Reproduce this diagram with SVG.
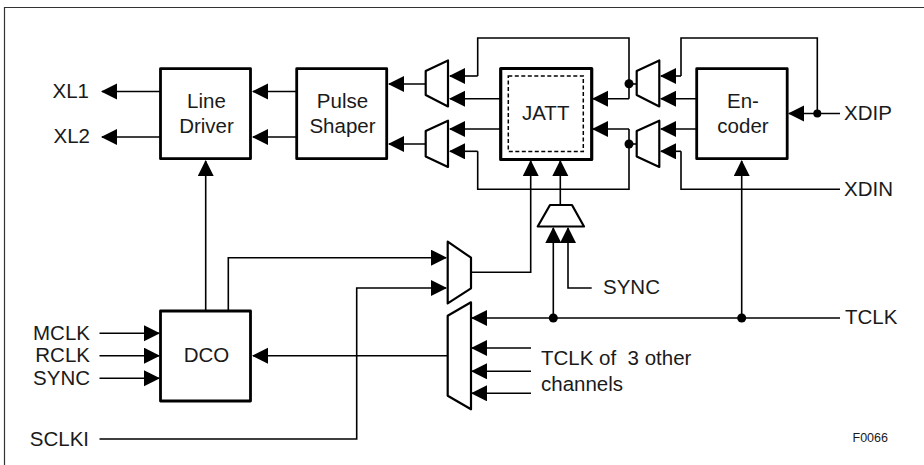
<svg xmlns="http://www.w3.org/2000/svg" width="924" height="465" viewBox="0 0 924 465">
<defs>
<marker id="a" markerUnits="userSpaceOnUse" markerWidth="17" markerHeight="17" refX="15" refY="8" orient="auto"><path d="M0,0L16,8L0,16Z" fill="#000"/></marker>
</defs>
<style>
text{font-family:"Liberation Sans",Arial,sans-serif;font-size:20.500px;fill:#1a1a1a}
.b{fill:#fff;stroke:#000;stroke-width:2.800;stroke-linejoin:round}
.t{fill:#fff;stroke:#000;stroke-width:2.200;stroke-linejoin:round}
.c path{fill:none;stroke:#000;stroke-width:1.600}
.c path.m{marker-end:url(#a)}
.c circle{fill:#000}
.m0{text-anchor:middle}
.e{text-anchor:end}
</style>
<rect width="924" height="465" fill="#fff"/>
<path d="M4.500,465V7.500H924" fill="none" stroke="#333" stroke-width="1.200"/>
<g class="c" id="connectors">
<path class="m" d="M160,91.500H102"/>
<path class="m" d="M160,137H102"/>
<path class="m" d="M296,91.500H253"/>
<path class="m" d="M296,137H253"/>
<path class="m" d="M426,84H389"/>
<path class="m" d="M426,144H389"/>
<path class="m" d="M477.700,76H450"/>
<path class="m" d="M500,98.700H450"/>
<path class="m" d="M500,129H450"/>
<path class="m" d="M477.700,151.300H450"/>
<path d="M477.700,76V38H629V98.700"/>
<path class="m" d="M629,98.700H593"/>
<path class="m" d="M629,129H593"/>
<path d="M629,129V189.300H477.700V151.300"/>
<path d="M629,84H636"/>
<path d="M629,144H636"/>
<path class="m" d="M681,76H661"/>
<path d="M681,76V38H817.300V113.500"/>
<path class="m" d="M696,98.700H661"/>
<path class="m" d="M696,129H661"/>
<path class="m" d="M681,151.300H661"/>
<path d="M681,151.300V189.300H840"/>
<path class="m" d="M840,113.500H789"/>
<path class="m" d="M741.700,318V161"/>
<path class="m" d="M205.700,310V161"/>
<path class="m" d="M228.300,310V257.700H446"/>
<path class="m" d="M99.500,439H356.700V288H446"/>
<path class="m" d="M471,272.300H530.700V161"/>
<path class="m" d="M560.300,205V161"/>
<path class="m" d="M553.300,318V228"/>
<path class="m" d="M591.700,288H568V228"/>
<path class="m" d="M840,318H472"/>
<path class="m" d="M531,348H472"/>
<path class="m" d="M531,371.300H472"/>
<path class="m" d="M531,393.300H472"/>
<path class="m" d="M447,355.700H253"/>
<path class="m" d="M99.500,333.300H159"/>
<path class="m" d="M99.500,355.700H159"/>
<path class="m" d="M99.500,378.300H159"/>
<circle cx="629" cy="83.700" r="4.500"/>
<circle cx="629" cy="144" r="4.500"/>
<circle cx="817.300" cy="113.500" r="4"/>
<circle cx="553.300" cy="318" r="4.500"/>
<circle cx="741.700" cy="318" r="4.500"/>
</g>
<g id="line-driver"><rect class="b" x="160.500" y="68.700" width="90" height="90"/><text class="m0" x="206.500" y="108">Line</text><text class="m0" x="206.500" y="133">Driver</text></g>
<g id="pulse-shaper"><rect class="b" x="296.700" y="68.700" width="90" height="90"/><text class="m0" x="342.500" y="108">Pulse</text><text class="m0" x="342.500" y="133">Shaper</text></g>
<g id="jatt"><rect class="b" style="stroke-width:3.200" x="500.700" y="68.500" width="91" height="91"/><rect x="508.300" y="76" width="75" height="75.500" fill="none" stroke="#000" stroke-width="1.500" stroke-dasharray="4 2.500"/><text class="m0" x="545.700" y="120">JATT</text></g>
<g id="encoder"><rect class="b" x="696.700" y="68.700" width="90.500" height="90"/><text class="m0" x="743" y="107.500">En-</text><text class="m0" x="743" y="132.500">coder</text></g>
<g id="dco"><rect class="b" x="160.500" y="311" width="90" height="90"/><text class="m0" x="206.500" y="361.500">DCO</text></g>
<g id="mux-1"><path class="t" d="M425.700,71L448,60.500V106.500L425.700,95Z"/></g>
<g id="mux-2"><path class="t" d="M425.700,131L448,120.700V167L425.700,156.500Z"/></g>
<g id="mux-3"><path class="t" d="M636.700,71L659.300,60.500V106.500L636.700,95Z"/></g>
<g id="mux-4"><path class="t" d="M636.700,131L659.300,120.700V167L636.700,156.500Z"/></g>
<g id="mux-5"><path class="t" d="M537.700,226.500L550,205H572L584,226.500Z"/></g>
<g id="mux-6"><path class="t" d="M447.700,241.700L471,257.700V288.300L447.700,303.300Z"/></g>
<g id="mux-7"><path class="t" d="M447.700,315.700L471,302.300V409.300L447.700,395.700Z"/></g>
<g id="labels">
<text class="e" x="89" y="98">XL1</text><text class="e" x="90" y="143">XL2</text>
<text x="844" y="120">XDIP</text><text x="844" y="196">XDIN</text>
<text x="603" y="294">SYNC</text><text x="845" y="324">TCLK</text>
<text x="541" y="364.500" xml:space="preserve">TCLK of  3 other</text><text x="541" y="391">channels</text>
<text class="e" x="90" y="340">MCLK</text><text class="e" x="90" y="362">RCLK</text><text class="e" x="90" y="385">SYNC</text><text class="e" x="89" y="446">SCLKI</text>
<text x="852.500" y="442" style="font-size:12.500px">F0066</text>
</g>
</svg>
